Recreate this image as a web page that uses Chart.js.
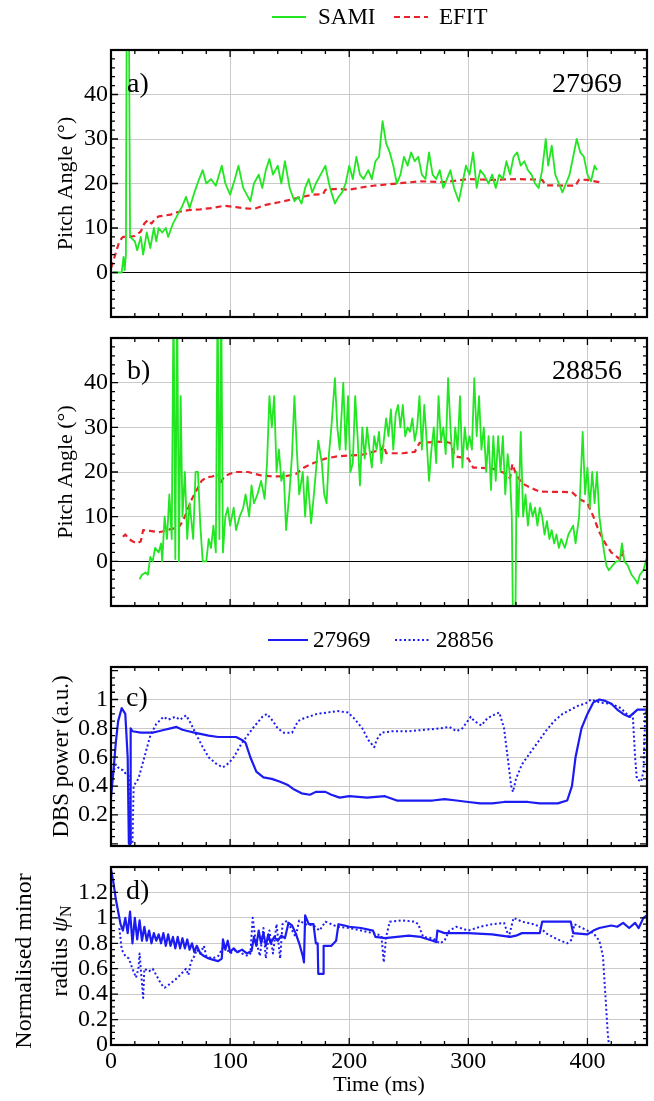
<!DOCTYPE html>
<html>
<head>
<meta charset="utf-8">
<script src="https://cdn.jsdelivr.net/npm/chart.js@4.4.0/dist/chart.umd.min.js"></script>
<style>
  body { margin:0; background:#fff; width:654px; height:1101px; position:relative; overflow:hidden; }
  .box { position:absolute; left:0; width:654px; }
</style>
</head>
<body>
<div class="box" style="top:0;height:360px"><canvas id="ca"></canvas></div>
<div class="box" style="top:300px;height:340px"><canvas id="cb"></canvas></div>
<div class="box" style="top:620px;height:270px"><canvas id="cc"></canvas></div>
<div class="box" style="top:830px;height:271px"><canvas id="cd"></canvas></div>
<script>
// time axis (ms)
const xTicks = [0, 100, 200, 300, 400];

// a) shot 27969 pitch angle, [t, deg]
const samiA = [[1.5,0],[9,0],[10.5,3.5],[11.5,0.5],[12.5,4],[13.2,60],[15,60],[16,8],[18,7.5],[20,7],[22,5],[25,8],[27,4],[30,9],[33,5.5],[36,10],[38,7],[40,10],[43,9],[46,10],[48,8],[52,11],[56,13],[60,15],[63,17],[66,14.5],[70,18],[74,21],[77,23],[80,20],[84,21],[88,19.5],[93,24],[96,20],[100,17.5],[104,21],[107,24],[111,19],[115,17],[117,16],[120,20],[124,22],[127,19],[130,23],[133,25.5],[136,22],[140,24],[143,20],[146,25],[150,19],[154,16],[157,17],[160,15.5],[163,19],[166,21],[169,18],[172,20],[176,22],[180,24],[183,20],[185,18],[188,15.5],[191,17],[194,18],[197,20],[200,24],[203,21],[206,26],[209,22],[212,21],[216,23],[219,21],[222,25],[225,26],[228,34],[231,29],[234,27],[237,24],[240,20],[243,22],[246,26],[249,24],[252,27],[255,25],[258,26],[261,22],[264,21],[267,27],[270,22],[273,21],[276,23],[279,19],[282,21],[285,23],[288,19],[292,16],[295,20],[298,24],[301,22],[304,27],[307,19],[310,23],[313,22],[317,20],[320,22],[323,19],[326,22],[329,21],[332,25],[335,22],[338,26],[341,27],[344,24],[347,25],[350,23],[353,22],[356,20],[359,19],[362,23],[365,30],[367,24],[370,28.5],[373,22],[376,20],[379,18],[382,20],[385,22],[388,26],[391,30],[394,27],[397,26],[400,22],[403,20.5],[406,24],[408,23]];
const efitA = [[0,1],[3,3.5],[7,7],[10,8],[15,8],[20,8.2],[25,9.2],[28,11],[31,11.8],[34,11],[37,12],[40,12.6],[45,12.8],[50,13],[55,13.5],[60,13.8],[65,14],[75,14.2],[85,14.5],[95,15],[105,14.7],[112,14.4],[120,14.3],[130,15.2],[145,16],[160,17],[170,17.5],[178,17.6],[180,18.6],[190,18.8],[200,18.6],[210,19.1],[220,19.5],[240,20],[260,20.5],[280,20.3],[300,21],[320,20.8],[340,21],[355,20.9],[362,20.8],[365,19.6],[390,19.5],[393,20.9],[400,20.8],[410,20.3]];

// b) shot 28856 pitch angle
const samiB = [[24,-4],[26,-3],[29,-2.5],[31,-3],[33,1],[35,0],[37,3],[40,2],[42,4],[43,0],[45,10],[47,5],[49,15],[51,5],[52.5,60],[54,0.5],[55.5,60],[57,0],[58.5,37],[60,10],[62,20],[64,5],[66,13],[69,5],[71,20],[73,20],[75,8],[77,0],[80,0],[82,5],[84,3],[86,8],[88,2],[89.5,60],[91,5],[92.5,60],[94,2],[96,10],[98,12],[100,8],[103,12],[105,7],[108,10],[111,12],[113,15],[116,10],[118,17],[120,13],[123,15],[126,18],[129,14],[131,22],[133,37],[135,30],[137,37],[139,20],[141,25],[143,18],[145,20],[147,7],[150,16],[152,24],[154,37],[156,25],[158,15],[161,20],[163,10],[165,19],[168,8.5],[170,14],[172,20],[174,27],[177,22],[179,15],[181,13],[183,24],[185,30],[188,41],[190,30],[192,25],[195,40],[197,25],[199,37],[201,20],[203,22],[205,37],[207,28],[209,17],[211,30],[213,23],[215,30],[217,25],[219,21],[221,28],[223,25],[225,29],[227,22],[229,27],[231,32],[233,28],[235,34],[237,25],[239,33],[241,35],[243,30],[245,35],[247,28],[249,30],[251,29],[253,32],[255,27],[257,30],[259,37],[261,25],[263,35],[265,27],[267,18],[269,25],[271,30],[273,22],[275,37],[277,27],[279,30],[281,24],[283,41],[285,30],[287,21],[289,30],[291,25],[293,37],[295,21],[297,30],[299,25],[301,28],[303,25],[305,41],[307,28],[309,37],[311,25],[313,30],[315,20],[317,28],[319,16],[321,28],[323,18],[325,28],[327,20],[329,28],[331,15],[333,24],[335,19],[336.5,10],[337.5,-15],[339.5,-15],[340.5,20],[342,10],[344,29],[346,10],[348,15],[350,8],[352,13],[354,10],[356,12],[358,8],[360,12],[362,10],[364,6],[366,9],[368,5],[370,7],[372,4],[374,6],[376,3],[378,5],[381,3],[384,6],[388,8],[390,4],[393,10],[396,29],[398,15],[400,21],[402,12],[404,20],[406,13],[408,20],[410,10],[412,6],[414,2],[416,-1],[418,-2],[421,-1],[424,0],[427,0],[429,4],[431,0],[434,-1],[437,-3],[440,-4],[442,-5],[444,-3],[447,-2],[450,1]];
const efitB = [[10,5.5],[12,6],[15,5],[18,4.5],[22,4],[25,4.5],[27,7],[33,6.8],[40,6.5],[45,6.8],[50,7.2],[55,7.5],[58,8],[62,10],[65,12],[68,14],[72,16],[76,18],[80,18.8],[85,19],[90,19.5],[92,17.5],[95,19],[100,19.6],[105,20],[115,20],[125,19.3],[135,19],[145,19],[155,19.5],[162,21],[170,22],[180,23],[190,23.5],[200,23.7],[210,23.8],[220,24.5],[227,25],[229,26],[231,24.2],[245,24.2],[255,24.5],[259,26.5],[270,26.7],[280,26.8],[285,26.5],[289,23.5],[300,23],[304,21],[320,20.8],[330,19.8],[335,18.6],[337,21.8],[340,19.5],[345,17.5],[352,16.5],[360,15.6],[387,15.5],[393,14],[400,13],[405,10],[410,6.5],[415,4],[420,2],[428,0.3],[431,3.2]];

// c) DBS power (a.u.)
const power27969 = [[0,0.32],[2,0.5],[4,0.7],[6,0.85],[9,0.94],[12,0.9],[14,0.6],[15,0],[16,0],[16.5,0.8],[18,0.78],[25,0.77],[35,0.77],[40,0.78],[45,0.79],[50,0.8],[55,0.81],[60,0.79],[65,0.78],[70,0.77],[76,0.76],[82,0.75],[90,0.74],[96,0.74],[105,0.74],[110,0.72],[113,0.7],[117,0.6],[122,0.5],[128,0.46],[135,0.45],[142,0.43],[148,0.41],[153,0.38],[160,0.35],[167,0.34],[172,0.36],[180,0.36],[185,0.34],[192,0.32],[200,0.33],[215,0.32],[230,0.33],[240,0.3],[250,0.3],[260,0.3],[270,0.3],[280,0.31],[290,0.3],[300,0.29],[310,0.28],[320,0.28],[330,0.29],[344,0.29],[350,0.29],[360,0.28],[375,0.28],[383,0.3],[387,0.4],[390,0.6],[395,0.8],[400,0.9],[405,0.98],[410,1.0],[415,0.99],[420,0.97],[425,0.93],[430,0.9],[435,0.88],[438,0.9],[442,0.93],[450,0.93]];
const power28856 = [[0,0.42],[2,0.5],[4,0.55],[7,0.52],[10,0.51],[13,0.48],[15,0.47],[16.5,0],[18,0],[19,0.4],[23,0.45],[28,0.6],[33,0.75],[38,0.83],[44,0.88],[48,0.86],[54,0.88],[58,0.86],[63,0.89],[66,0.85],[72,0.75],[77,0.67],[82,0.6],[89,0.55],[94,0.53],[99,0.56],[103,0.6],[110,0.7],[119,0.8],[127,0.88],[131,0.9],[136,0.85],[140,0.8],[145,0.77],[152,0.77],[157,0.85],[162,0.87],[173,0.9],[182,0.91],[190,0.92],[199,0.91],[204,0.87],[211,0.8],[216,0.72],[221,0.67],[223,0.72],[227,0.77],[236,0.78],[250,0.78],[263,0.79],[277,0.8],[284,0.81],[290,0.78],[295,0.8],[302,0.88],[305,0.85],[311,0.82],[316,0.87],[323,0.9],[326,0.91],[330,0.8],[333,0.6],[336,0.4],[337.5,0.36],[340,0.45],[345,0.55],[351,0.62],[358,0.7],[365,0.78],[372,0.85],[379,0.9],[386,0.93],[393,0.96],[398,0.97],[403,1.0],[410,0.98],[420,0.97],[428,0.94],[433,0.9],[436,0.88],[438,0.9],[440,0.6],[441.5,0.45],[445,0.43],[447,0.5],[448.5,0.9],[450,0.93]];

// d) normalised minor radius psi_N
const psi27969 = [[0,1.38],[2,1.28],[4,1.15],[6,1.05],[8,0.95],[10,0.9],[12,1.0],[14,0.88],[16,1.05],[18,0.8],[20,1.0],[22,0.83],[24,0.98],[26,0.82],[28,0.93],[30,0.82],[32,0.9],[34,0.8],[36,0.88],[38,0.82],[40,0.87],[42,0.8],[44,0.88],[46,0.78],[48,0.87],[50,0.78],[52,0.85],[54,0.76],[56,0.85],[58,0.76],[60,0.84],[62,0.76],[64,0.83],[66,0.75],[68,0.8],[70,0.73],[72,0.78],[75,0.72],[78,0.7],[82,0.68],[86,0.67],[90,0.66],[93,0.68],[94,0.83],[96,0.75],[98,0.82],[100,0.73],[103,0.76],[106,0.73],[110,0.75],[114,0.72],[118,0.74],[120,0.85],[122,0.78],[124,0.9],[126,0.8],[128,0.88],[130,0.78],[132,0.87],[134,0.8],[137,0.85],[140,0.82],[143,0.86],[146,0.84],[149,0.96],[152,0.94],[155,0.88],[158,0.8],[161,0.7],[162,0.65],[163,1.02],[166,0.95],[170,0.95],[172,0.8],[173.5,0.8],[174,0.56],[178,0.56],[178.5,0.78],[185,0.78],[189,0.82],[191,0.95],[196,0.94],[200,0.93],[210,0.92],[220,0.9],[222,0.85],[230,0.84],[240,0.85],[250,0.86],[260,0.85],[270,0.82],[273,0.81],[274,0.9],[280,0.88],[300,0.88],[320,0.87],[335,0.85],[340,0.86],[345,0.88],[360,0.88],[362,0.97],[380,0.97],[386,0.97],[388,0.88],[400,0.87],[405,0.9],[410,0.92],[420,0.94],[425,0.93],[430,0.96],[435,0.92],[440,0.96],[443,0.92],[447,1.0],[450,1.02]];
const psi28856 = [[7,0.92],[9,0.75],[12,0.7],[15,0.68],[18,0.6],[21,0.53],[23,0.6],[24,0.72],[25,0.6],[27,0.37],[28,0.6],[32,0.58],[35,0.6],[38,0.55],[42,0.48],[45,0.45],[48,0.47],[52,0.5],[56,0.53],[60,0.57],[63,0.6],[65,0.55],[67,0.65],[70,0.7],[72,0.75],[75,0.72],[78,0.78],[80,0.7],[85,0.68],[90,0.7],[95,0.78],[100,0.72],[105,0.75],[110,0.72],[115,0.7],[117,0.72],[119,1.0],[121,0.85],[125,0.7],[128,0.92],[130,0.68],[133,0.9],[136,0.72],[139,0.95],[142,0.68],[144,0.95],[148,0.98],[151,0.92],[155,0.85],[158,0.98],[163,0.95],[170,0.94],[175,0.9],[180,0.97],[185,0.95],[190,0.93],[200,0.92],[210,0.9],[220,0.88],[227,0.86],[229,0.65],[231,0.85],[234,0.97],[245,0.98],[255,0.97],[258,0.95],[262,0.85],[270,0.84],[276,0.8],[280,0.82],[284,0.9],[290,0.93],[300,0.9],[310,0.93],[320,0.95],[330,0.96],[334,0.85],[338,1.0],[345,0.97],[355,0.95],[360,0.93],[365,0.88],[375,0.83],[383,0.8],[387,0.83],[389,0.95],[400,0.9],[405,0.88],[410,0.82],[413,0.7],[415,0.4],[417,0.1],[418,0]];

const angleTicks = [0, 10, 20, 30, 40];
const powerTicks = [0.2, 0.4, 0.6, 0.8, 1];
const psiTicks = [0, 0.2, 0.4, 0.6, 0.8, 1, 1.2];

const GREEN = '#22e622', RED = '#e8232b', BLUE = '#1c1cf2', GRID = '#cacaca';

Chart.defaults.font.family = "'Liberation Serif', 'Times New Roman', serif";
Chart.defaults.color = '#000';

function pts(arr) { return arr.map(p => ({x: p[0], y: p[1]})); }

// frame, inward ticks, panel labels, legend
const deco = {
  id: 'deco',
  afterDatasetsDraw(chart, args, o) {
    const ctx = chart.ctx, a = chart.chartArea, x = chart.scales.x, y = chart.scales.y;
    ctx.save();
    ctx.strokeStyle = '#000';
    ctx.lineWidth = 1.3;
    ctx.beginPath();
    for (let t = 0; t <= 450; t += 20) {
      const px = x.getPixelForValue(t), L = t % 100 === 0 ? 7 : 4;
      ctx.moveTo(px, a.bottom); ctx.lineTo(px, a.bottom - L);
      ctx.moveTo(px, a.top); ctx.lineTo(px, a.top + L);
    }
    for (let i = Math.ceil(y.min / o.minor); i * o.minor <= y.max + 1e-9; i++) {
      const v = i * o.minor, py = y.getPixelForValue(v);
      const major = Math.abs(v / o.major - Math.round(v / o.major)) < 1e-6;
      const L = major ? 7 : 4;
      ctx.moveTo(a.left, py); ctx.lineTo(a.left + L, py);
      ctx.moveTo(a.right, py); ctx.lineTo(a.right - L, py);
    }
    ctx.stroke();
    ctx.lineWidth = 2.2;
    ctx.strokeRect(a.left, a.top, a.right - a.left, a.bottom - a.top);

    ctx.fillStyle = '#000';
    ctx.textBaseline = 'middle';
    (o.labels || []).forEach(l => {
      ctx.font = '28px ' + Chart.defaults.font.family;
      ctx.textAlign = l.align || 'left';
      ctx.fillText(l.text, a.left + l.dx, a.top + l.dy);
    });

    (o.legend || []).forEach(l => {
      ctx.strokeStyle = l.color;
      ctx.lineWidth = 2;
      ctx.setLineDash(l.dash || []);
      ctx.beginPath(); ctx.moveTo(l.x1, l.y); ctx.lineTo(l.x2, l.y); ctx.stroke();
      ctx.setLineDash([]);
      ctx.font = '23px ' + Chart.defaults.font.family;
      ctx.textAlign = 'left';
      ctx.fillText(l.text, l.tx, l.y + 1);
    });

    if (o.psiTitle) {
      const fam = Chart.defaults.font.family;
      const yc = (a.top + a.bottom) / 2;
      ctx.save();
      ctx.translate(25, yc + 5);
      ctx.rotate(-Math.PI / 2);
      ctx.font = '24px ' + fam; ctx.textAlign = 'center';
      ctx.fillText('Normalised minor', 0, 0);
      ctx.restore();
      ctx.save();
      ctx.translate(61, yc - 5);
      ctx.rotate(-Math.PI / 2);
      ctx.textAlign = 'left';
      ctx.font = '24px ' + fam;
      const w1 = ctx.measureText('radius ').width;
      ctx.font = 'italic 24px ' + fam;
      const w2 = ctx.measureText('ψ').width;
      ctx.font = '16px ' + fam;
      const w3 = ctx.measureText('N').width;
      let s = -(w1 + w2 + w3) / 2;
      ctx.font = '24px ' + fam; ctx.fillText('radius ', s, 0); s += w1;
      ctx.font = 'italic 24px ' + fam; ctx.fillText('ψ', s, 0); s += w2;
      ctx.font = '16px ' + fam; ctx.fillText('N', s, 6);
      ctx.restore();
    }
    ctx.restore();
  }
};

function panel(id, o) {
  return new Chart(document.getElementById(id), {
    type: 'line',
    data: { datasets: o.sets },
    options: {
      responsive: true,
      maintainAspectRatio: false,
      animation: false,
      events: [],
      layout: { padding: { left: 0, right: 7, top: o.padTop, bottom: o.padBottom } },
      elements: { point: { radius: 0 }, line: { tension: 0, borderJoinStyle: 'round' } },
      plugins: { legend: { display: false }, tooltip: { enabled: false }, deco: o.deco },
      scales: {
        x: {
          type: 'linear', min: 0, max: 450,
          afterBuildTicks: s => { s.ticks = xTicks.map(v => ({value: v})); },
          afterFit: s => { s.height = o.xHeight; },
          grid: { color: GRID, lineWidth: 1, drawTicks: false },
          border: { display: false },
          ticks: { display: !!o.showX, autoSkip: false, maxRotation: 0, padding: 2, font: { size: 24 } },
          title: { display: !!o.showX, text: 'Time (ms)', font: { size: 22 }, padding: { top: 0, bottom: 3 } }
        },
        y: {
          type: 'linear', min: o.yMin, max: o.yMax,
          afterBuildTicks: s => { s.ticks = o.yTicks.map(v => ({value: v})); },
          afterFit: s => { s.width = 111; },
          grid: {
            color: c => (o.zeroLine && c.tick && c.tick.value === 0) ? '#000' : GRID,
            lineWidth: 1, drawTicks: false
          },
          border: { display: false },
          ticks: { autoSkip: false, padding: 3, font: { size: 24 }, callback: v => String(+(+v).toFixed(2)) },
          title: o.yTitle ? { display: true, text: o.yTitle, font: { size: o.yTitleSize }, padding: { top: o.yTitlePad, bottom: 0 } } : { display: false }
        }
      }
    },
    plugins: [deco]
  });
}

const green = arr => ({ data: pts(arr), borderColor: GREEN, borderWidth: 1.8 });
const redDash = arr => ({ data: pts(arr), borderColor: RED, borderWidth: 2.2, borderDash: [6, 4] });
const blueSolid = arr => ({ data: pts(arr), borderColor: BLUE, borderWidth: 2.2 });
const blueDot = arr => ({ data: pts(arr), borderColor: BLUE, borderWidth: 2, borderDash: [2, 2.5] });

panel('ca', {
  sets: [green(samiA), redDash(efitA)],
  yMin: -10, yMax: 50, yTicks: angleTicks, zeroLine: true,
  padTop: 50, padBottom: 43, xHeight: 0,
  yTitle: 'Pitch Angle (°)', yTitleSize: 22, yTitlePad: 53,
  deco: {
    major: 10, minor: 2,
    labels: [{text: 'a)', dx: 16, dy: 35}, {text: '27969', dx: 511, dy: 35, align: 'right'}],
    legend: [
      {x1: 272, x2: 306, y: 17, color: GREEN, text: 'SAMI', tx: 318},
      {x1: 394, x2: 428, y: 17, color: RED, dash: [6, 4], text: 'EFIT', tx: 439}
    ]
  }
});

panel('cb', {
  sets: [green(samiB), redDash(efitB)],
  yMin: -10, yMax: 50, yTicks: angleTicks, zeroLine: true,
  padTop: 38, padBottom: 34, xHeight: 0,
  yTitle: 'Pitch Angle (°)', yTitleSize: 22, yTitlePad: 53,
  deco: {
    major: 10, minor: 2,
    labels: [{text: 'b)', dx: 16, dy: 34}, {text: '28856', dx: 511, dy: 34, align: 'right'}]
  }
});

panel('cc', {
  sets: [blueSolid(power27969), blueDot(power28856)],
  yMin: -0.015, yMax: 1.225, yTicks: powerTicks,
  padTop: 47, padBottom: 44, xHeight: 0,
  yTitle: 'DBS power (a.u.)', yTitleSize: 23, yTitlePad: 48,
  deco: {
    major: 0.2, minor: 0.05,
    labels: [{text: 'c)', dx: 15, dy: 32}],
    legend: [
      {x1: 268, x2: 308, y: 20, color: BLUE, text: '27969', tx: 313},
      {x1: 395, x2: 431, y: 20, color: BLUE, dash: [2, 2.5], text: '28856', tx: 436}
    ]
  }
});

panel('cd', {
  sets: [blueSolid(psi27969), blueDot(psi28856)],
  yMin: 0, yMax: 1.4, yTicks: psiTicks,
  padTop: 37, padBottom: 0, xHeight: 56, showX: true,
  deco: {
    major: 0.2, minor: 0.05, psiTitle: true,
    labels: [{text: 'd)', dx: 15, dy: 25}]
  }
});
</script>
</body>
</html>
